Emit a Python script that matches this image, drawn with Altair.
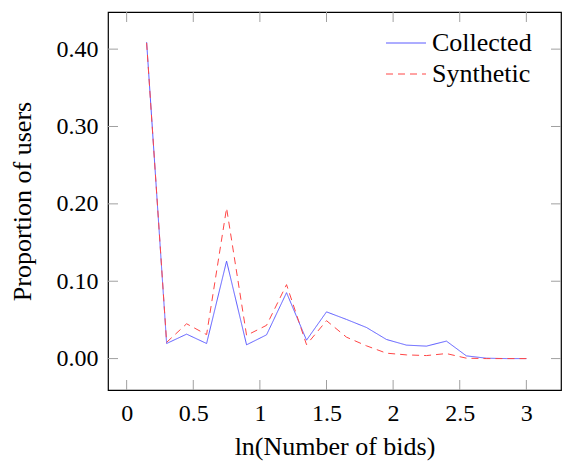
import altair as alt
import pandas as pd

# ln(Number of bids) sample points
x_vals = [0.15, 0.30, 0.45, 0.60, 0.75, 0.90, 1.05, 1.20, 1.35, 1.50,
          1.65, 1.80, 1.95, 2.10, 2.25, 2.40, 2.55, 2.70, 2.85, 3.00]
collected = [0.409, 0.0195, 0.0316, 0.0195, 0.126, 0.0178, 0.0307, 0.0852, 0.0238, 0.0604,
             0.0506, 0.0402, 0.0247, 0.0174, 0.0161, 0.0226, 0.0035, 0.0005, 0.0, 0.0]
synthetic = [0.408, 0.021, 0.045, 0.031, 0.1946, 0.030, 0.043, 0.0956, 0.018, 0.049,
             0.0277, 0.0165, 0.007, 0.0048, 0.0039, 0.0065, 0.0005, 0.0, 0.0, 0.0]
series_names = ["Collected", "Synthetic"]
x_ticks = [0, 0.5, 1, 1.5, 2, 2.5, 3]
y_ticks = [0.0, 0.1, 0.2, 0.3, 0.4]

FONT = "Liberation Serif"
W, H = 453, 378
TICK = 10
TICK_COLOR = "#a0a0a0"

rows = []
for name, vals in zip(series_names, [collected, synthetic]):
    for xv, yv in zip(x_vals, vals):
        rows.append({"x": xv, "y": yv, "series": name})
df = pd.DataFrame(rows)

xscale = alt.Scale(domain=[-0.14, 3.26], nice=False, zero=False)
yscale = alt.Scale(domain=[-0.0406, 0.448], nice=False, zero=False)

legend_cfg = dict(title=None, orient="none", legendX=285, legendY=18,
                  symbolType="M-2,0H2", symbolSize=400, symbolStrokeWidth=1,
                  symbolFillColor="transparent",
                  labelFont=FONT, labelFontSize=26, labelColor="black",
                  labelOffset=13, rowPadding=5, padding=0)

lines = alt.Chart(df).mark_line(strokeWidth=1).encode(
    x=alt.X("x:Q", scale=xscale,
            axis=alt.Axis(values=x_ticks, format="~g", title="ln(Number of bids)",
                          ticks=False, domain=False, grid=False,
                          labelPadding=11, labelFont=FONT, labelFontSize=24,
                          labelColor="black", titleFont=FONT, titleFontSize=26,
                          titleFontWeight="normal", titleColor="black",
                          titleBaseline="middle", titleY=56)),
    y=alt.Y("y:Q", scale=yscale,
            axis=alt.Axis(values=y_ticks, format=".2f", title="Proportion of users",
                          ticks=False, domain=False, grid=False,
                          labelPadding=10, labelFont=FONT, labelFontSize=24,
                          labelColor="black", titleFont=FONT, titleFontSize=26,
                          titleFontWeight="normal", titleColor="black",
                          titleBaseline="middle", titleX=-86)),
    color=alt.Color("series:N",
                    scale=alt.Scale(domain=series_names, range=["#5a5aff", "#ff4646"]),
                    legend=alt.Legend(**legend_cfg)),
    strokeDash=alt.StrokeDash("series:N",
                              scale=alt.Scale(domain=series_names, range=[[1, 0], [7, 5]]),
                              legend=alt.Legend(**legend_cfg)),
)

xt = pd.DataFrame({"v": x_ticks})
yt = pd.DataFrame({"v": y_ticks})

bottom_ticks = alt.Chart(xt).mark_rule(color=TICK_COLOR, strokeWidth=1).encode(
    x=alt.X("v:Q", scale=xscale), y=alt.value(H), y2=alt.value(H - TICK))
top_ticks = alt.Chart(xt).mark_rule(color=TICK_COLOR, strokeWidth=1).encode(
    x=alt.X("v:Q", scale=xscale), y=alt.value(0), y2=alt.value(TICK))
left_ticks = alt.Chart(yt).mark_rule(color=TICK_COLOR, strokeWidth=1).encode(
    y=alt.Y("v:Q", scale=yscale), x=alt.value(0), x2=alt.value(TICK))
right_ticks = alt.Chart(yt).mark_rule(color=TICK_COLOR, strokeWidth=1).encode(
    y=alt.Y("v:Q", scale=yscale), x=alt.value(W - TICK), x2=alt.value(W))

chart = alt.layer(bottom_ticks, top_ticks, left_ticks, right_ticks, lines).properties(
    width=W, height=H,
    autosize=alt.AutoSizeParams(type="none"),
    padding={"left": 108, "top": 12, "right": 1, "bottom": 73},
    background="white",
).configure_view(stroke="black", strokeWidth=1.2)

chart.save("out.html", embed_options={"renderer": "svg", "actions": False})
